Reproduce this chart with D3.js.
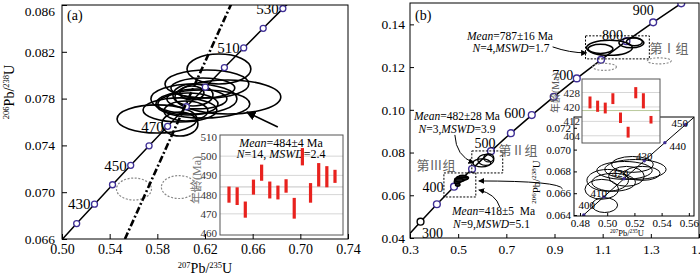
<!DOCTYPE html>
<html><head><meta charset="utf-8">
<script src="https://cdn.jsdelivr.net/npm/d3@7"></script>
<style>
body{margin:0;background:#fff}
svg{display:block;font-family:"Liberation Serif","Times New Roman",serif}
</style></head><body>
<svg id="c" width="700" height="276" font-family="Liberation Serif, Times New Roman, serif"></svg>
<script>
// concordia reference points: age (Ma), 207Pb/235U, 206Pb/238U
const concAge = [250,300,350,400,410,420,430,440,450,460,470,480,490,500,510,520,530,540,550,600,650,700,750,800,850,900,950];
const concX = [0.279171,0.343737,0.411566,0.482812,0.497488,0.512308,0.527276,0.542392,0.557657,0.573073,0.588642,0.604365,0.620244,0.636279,0.652474,0.668829,0.685345,0.702026,0.718871,0.805631,0.89677,0.99251,1.093082,1.198731,1.309712,1.426294,1.548762];
const concY = [0.039543,0.047637,0.055795,0.064016,0.065668,0.067322,0.068979,0.070638,0.072300,0.073965,0.075632,0.077302,0.078975,0.080650,0.082327,0.084008,0.085691,0.087376,0.089064,0.097544,0.106090,0.114702,0.123382,0.132129,0.140944,0.149828,0.158781];

// panel (a): ticks on the concordia, labelled ages
const marksA = [420,430,440,450,460,470,480,490,500,510,520,530];
const labelsA = [430,450,470,510,530];
// error ellipses [207/235, 206/238, half-width x, half-width y]
const ellA = [
  [0.6317,0.08053,0.0268,0.00128],[0.6216,0.07925,0.0352,0.00120],[0.6392,0.07814,0.0444,0.00145],
  [0.6107,0.07797,0.0361,0.00128],[0.6182,0.07754,0.0394,0.00120],[0.5797,0.07626,0.0335,0.00120],
  [0.5990,0.07703,0.0310,0.00103],[0.5990,0.07583,0.0151,0.00103],[0.6099,0.07831,0.0168,0.00094],
  [0.6090,0.07848,0.0101,0.00060],[0.6132,0.07797,0.0252,0.00085],[0.6057,0.07754,0.0252,0.00094],
  [0.6182,0.07891,0.0268,0.00085],[0.6040,0.07694,0.0184,0.00085]];
const ellAgray = [[0.5604,0.07027,0.0147,0.00094],[0.5981,0.07044,0.0147,0.00098]];
const discX = [0.5528,0.6434], discY = [0.066,0.0864];
const arrowA = [[0.6811,0.07557],[0.6551,0.07685]];
// weighted-mean inset (a)
const agesA = [480.0,479.2,472.2,483.9,491.4,482.4,481.1,484.5,472.9,499.7,480.9,490.3,489.3,489.5];
const errA = [4.2,4.6,4.2,3.9,4.2,4.4,3.6,3.5,5.4,4.5,5.1,6.1,5.5,3.4];
const meanA = 484;

// panel (b)
const marksB = [300,350,400,450,500,550,600,650,700,750,800,850,900];
const labelsB = [300,400,500,600,700,800,900];
const ellB1 = [[1.1282,0.1290,0.0952,0.00351],[1.0909,0.12853,0.0518,0.00211],[1.2193,0.13134,0.0518,0.00234],[1.2317,0.13181,0.0331,0.00187]];
const ellB1gray = [[1.1075,0.12010,0.0497,0.00164],[1.3353,0.12291,0.0497,0.00141]];
const ellB2 = [[0.5982,0.07513,0.0373,0.00187],[0.6147,0.07654,0.0331,0.00258],[0.6271,0.07747,0.0207,0.00187]];
const ellB3 = [
  [0.50036,0.06718,0.01527,0.00100],[0.51273,0.06809,0.02036,0.00082],[0.52073,0.06818,0.02254,0.00091],
  [0.51855,0.06864,0.01527,0.00073],[0.51418,0.06755,0.01309,0.00091],[0.49600,0.06636,0.01236,0.00091],
  [0.49818,0.06491,0.00945,0.00068],[0.52581,0.06782,0.01309,0.00064],[0.50473,0.06700,0.01600,0.00082]];
const boxesB = [[1.0288,1.2938,0.12384,0.13462],[0.5567,0.6851,0.07045,0.08075],[0.4408,0.5733,0.05920,0.07045]];
const marksIB = [400,410,420,430,440,450];
const agesB = [422.5,420.4,419.4,424.6,414.0,406.0,427.9,423.4,412.9];
const errB = [3.3,3.1,3.0,3.0,2.9,3.0,3.1,4.2,2.1];
const meanB = 418;

const svg = d3.select('#c');
const purple = '#3f2f96', red = '#e8221e';
const cIdx = d3.range(concAge.length);
const ci = a => concAge.indexOf(a);

const defs = svg.append('defs');
defs.append('marker').attr('id', 'arr').attr('viewBox', '0 0 10 10')
  .attr('refX', 9).attr('refY', 5).attr('markerWidth', 6).attr('markerHeight', 6)
  .attr('orient', 'auto').append('path').attr('d', 'M0,0L10,5L0,10z').attr('fill', '#000');
function clip(id, x, y, w, h) {
  defs.append('clipPath').attr('id', id).append('rect').attr('x', x).attr('y', y).attr('width', w).attr('height', h);
}

function ellipses(g, data, x, y) {
  return g.selectAll(null).data(data).join('ellipse')
    .attr('cx', d => x(d[0])).attr('cy', d => y(d[1]))
    .attr('rx', d => Math.abs(x(d[0] + d[2]) - x(d[0])))
    .attr('ry', d => Math.abs(y(d[1] + d[3]) - y(d[1])))
    .attr('fill', 'none');
}

// text with italic pieces: parts = [[str, italic], ...]
function rich(g, x, y, parts, size, anchor = 'middle') {
  const t = g.append('text').attr('x', x).attr('y', y).attr('font-size', size).attr('text-anchor', anchor);
  parts.forEach(p => t.append('tspan').attr('font-style', p[1] ? 'italic' : null).text(p[0]));
  return t;
}
// ratio label with superscript mass numbers
function ratio(g, m1, m2, size, sup) {
  const t = g.append('text').attr('text-anchor', 'middle').attr('font-size', size);
  t.append('tspan').attr('font-size', sup).attr('dy', -size * 0.38).text(m1);
  t.append('tspan').attr('dy', size * 0.38).text('Pb/');
  t.append('tspan').attr('font-size', sup).attr('dy', -size * 0.38).text(m2);
  t.append('tspan').attr('dy', size * 0.38).text('U');
  return t;
}
function styleAxis(g, size, color = '#000') {
  g.attr('font-family', null).attr('font-size', size);
  g.select('.domain').remove();
  g.selectAll('.tick line').attr('stroke', color);
  g.selectAll('.tick text').attr('fill', color);
}

// ================= panel (a)
const xa = d3.scaleLinear().domain([0.50, 0.74]).range([62, 348]);
const ya = d3.scaleLinear().domain([0.066, 0.086]).range([239, 5]);
clip('clipA', 62, 5, 286, 234);
const pa = svg.append('g').attr('clip-path', 'url(#clipA)');

ellipses(pa, ellAgray, xa, ya).attr('stroke', '#8a8a8a').attr('stroke-width', 1.2).attr('stroke-dasharray', '2,1.6');
ellipses(pa, ellA, xa, ya).attr('stroke', '#000').attr('stroke-width', 1.6);

const concA = cIdx.filter(i => concAge[i] >= 400 && concAge[i] <= 550);
pa.append('path').attr('d', d3.line().x(i => xa(concX[i])).y(i => ya(concY[i]))(concA))
  .attr('fill', 'none').attr('stroke', '#000').attr('stroke-width', 1.5);
pa.selectAll(null).data(marksA).join('circle')
  .attr('cx', a => xa(concX[ci(a)])).attr('cy', a => ya(concY[ci(a)])).attr('r', 3)
  .attr('fill', '#fff').attr('stroke', purple).attr('stroke-width', 1.3);
pa.selectAll(null).data(labelsA).join('text')
  .attr('x', a => xa(concX[ci(a)]) - 4).attr('y', a => ya(concY[ci(a)]))
  .attr('dy', '0.35em').attr('text-anchor', 'end').attr('font-size', 15).text(d => d);

pa.append('path').attr('d', d3.line().x(i => xa(discX[i])).y(i => ya(discY[i]))([0, 1]))
  .attr('stroke', '#000').attr('stroke-width', 2.6).attr('stroke-dasharray', '7,2.5,2,2.5');

pa.append('line')
  .attr('x1', xa(arrowA[0][0])).attr('y1', ya(arrowA[0][1]))
  .attr('x2', xa(arrowA[1][0])).attr('y2', ya(arrowA[1][1]))
  .attr('stroke', '#000').attr('stroke-width', 1.6).attr('marker-end', 'url(#arr)');

// inset (a)
const ia = svg.append('g');
const xia = d3.scalePoint().domain(d3.range(1, 15)).range([229, 335]);
const yia = d3.scaleLinear().domain([459, 511]).range([235, 135]);
ia.append('rect').attr('x', 220).attr('y', 135).attr('width', 123).attr('height', 100).attr('fill', '#fff');
ia.selectAll(null).data([470, 480, 490, 500]).join('line')
  .attr('x1', 220).attr('x2', 343).attr('y1', d => yia(d)).attr('y2', d => yia(d))
  .attr('stroke', '#d6d6d6');
ia.append('line').attr('x1', 220).attr('x2', 343).attr('y1', yia(meanA)).attr('y2', yia(meanA)).attr('stroke', '#c4c4c4');
rich(ia, 281, 147, [['Mean', 1], ['=484±4 Ma', 0]], 12);
rich(ia, 281, 158, [['N', 1], ['=14, ', 0], ['MSWD', 1], ['=2.4', 0]], 12);
ia.selectAll(null).data(agesA).join('rect')
  .attr('x', (d, i) => xia(i + 1) - 1.6).attr('width', 3.2)
  .attr('y', (d, i) => yia(d + errA[i])).attr('height', (d, i) => yia(d - errA[i]) - yia(d + errA[i]))
  .attr('fill', red);
ia.append('rect').attr('x', 220).attr('y', 135).attr('width', 123).attr('height', 100)
  .attr('fill', 'none').attr('stroke', '#555');
const iaAx = ia.append('g').attr('transform', 'translate(220,0)')
  .call(d3.axisLeft(yia).tickValues([460, 470, 480, 490, 500, 510]).tickSize(0).tickPadding(3));
styleAxis(iaAx, 11, '#333');
ia.append('text').attr('transform', 'translate(201,180) rotate(-90)').attr('text-anchor', 'middle')
  .attr('font-size', 12).attr('fill', '#777').attr('font-family', 'Liberation Serif, Noto Sans CJK SC, serif').text('年龄(Ma)');

// frame + axes (a)
svg.append('rect').attr('x', 62).attr('y', 5).attr('width', 286).attr('height', 234)
  .attr('fill', 'none').attr('stroke', '#000');
const axA = svg.append('g').attr('transform', 'translate(0,239)')
  .call(d3.axisBottom(xa).tickValues(d3.range(0.50, 0.7401, 0.04)).tickFormat(d3.format('.2f')).tickSize(-5).tickPadding(5));
styleAxis(axA, 14);
const ayA = svg.append('g').attr('transform', 'translate(62,0)')
  .call(d3.axisLeft(ya).tickValues(d3.range(0.066, 0.0861, 0.004)).tickFormat(d3.format('.3f')).tickSize(-5).tickPadding(7));
styleAxis(ayA, 13.5);
ayA.selectAll('.tick text').filter(d => d > 0.085).attr('dy', '0.75em');
svg.append('text').attr('x', 67).attr('y', 20).attr('font-size', 14).text('(a)');
ratio(svg, '207', '235', 14, 8.5).attr('x', 205).attr('y', 273);
ratio(svg, '206', '238', 14, 8.5).attr('transform', 'translate(14,92) rotate(-90)');

// ================= panel (b)
const xb = d3.scaleLinear().domain([0.3, 1.5]).range([410, 699]);
const yb = d3.scaleLinear().domain([0.04, 0.15]).range([238, 3]);
clip('clipB', 410, 3, 289, 235);
const pb = svg.append('g').attr('clip-path', 'url(#clipB)');

pb.append('path').attr('d', d3.line().x(i => xb(concX[i])).y(i => yb(concY[i]))(cIdx))
  .attr('fill', 'none').attr('stroke', '#000').attr('stroke-width', 1.5);
pb.selectAll(null).data(marksB).join('circle')
  .attr('cx', a => xb(concX[ci(a)])).attr('cy', a => yb(concY[ci(a)])).attr('r', 3.4)
  .attr('fill', '#fff').attr('stroke', a => a === 300 ? '#000' : purple).attr('stroke-width', 1.4);
const offB = {300: [12, 11], 400: [-21, 0], 500: [-6, -8], 600: [-17, -2], 700: [-14, -3], 800: [-14, -6], 900: [-38, 7]};
pb.selectAll(null).data(labelsB).join('text')
  .attr('x', a => xb(concX[ci(a)]) + offB[a][0]).attr('y', a => yb(concY[ci(a)]) + offB[a][1])
  .attr('dy', '0.35em').attr('text-anchor', 'middle').attr('font-size', 14).text(d => d);

ellipses(pb, ellB1gray, xb, yb).attr('stroke', '#8a8a8a').attr('stroke-width', 1.1).attr('stroke-dasharray', '2,1.6');
ellipses(pb, ellB1, xb, yb).attr('stroke', '#000').attr('stroke-width', 1.5);
ellipses(pb, ellB2, xb, yb).attr('stroke', '#000').attr('stroke-width', 1.3);
ellipses(pb, ellB3, xb, yb).attr('stroke', '#000').attr('stroke-width', 1.4).attr('fill', '#222');
pb.selectAll(null).data(boxesB).join('rect')
  .attr('x', d => xb(d[0])).attr('width', d => xb(d[1]) - xb(d[0]))
  .attr('y', d => yb(d[3])).attr('height', d => yb(d[2]) - yb(d[3]))
  .attr('fill', 'none').attr('stroke', '#000').attr('stroke-dasharray', '2,1.5');

// annotations
rich(pb, 510, 40, [['Mean', 1], ['=787±16 Ma', 0]], 11.5);
rich(pb, 511, 52, [['N', 1], ['=4,', 0], ['MSWD', 1], ['=1.7', 0]], 11.5);
rich(pb, 457, 120, [['Mean', 1], ['=482±28 Ma', 0]], 11.5);
rich(pb, 457, 133, [['N', 1], ['=3,', 0], ['MSWD', 1], ['=3.9', 0]], 11.5);
rich(pb, 452, 215, [['Mean', 1], ['=418±5  Ma', 0]], 11.5, 'start').attr('xml:space', 'preserve');
rich(pb, 453, 228, [['N', 1], ['=9,', 0], ['MSWD', 1], ['=5.1', 0]], 11.5, 'start');
const cjk = 'Liberation Serif, Noto Sans CJK SC, serif';
[['第Ⅰ组', 669, 53], ['第Ⅱ组', 518, 155], ['第Ⅲ组', 436, 170]].forEach(d =>
  pb.append('text').attr('x', d[1]).attr('y', d[2]).attr('text-anchor', 'middle')
    .attr('font-size', 13).attr('fill', '#666').attr('font-family', cjk).text(d[0]));

const arrowsB = [
  [[0.8922, 0.12946], [0.9626, 0.12665], [1.0330, 0.12665]],
  [[0.4863, 0.08825], [0.4904, 0.07841], [0.5650, 0.07513]],
  [[0.6727, 0.05452], [0.6561, 0.06061], [0.5857, 0.06248]],
  [[0.9336, 0.06295], [0.9212, 0.06670], [0.5857, 0.06670]]];
pb.selectAll(null).data(arrowsB).join('path')
  .attr('d', d => `M${xb(d[0][0])},${yb(d[0][1])}Q${xb(d[1][0])},${yb(d[1][1])} ${xb(d[2][0])},${yb(d[2][1])}`)
  .attr('fill', 'none').attr('stroke', '#000').attr('stroke-width', 1).attr('marker-end', 'url(#arr)');

// lower inset (b): concordia close-up
const xib = d3.scaleLinear().domain([0.4756, 0.5638]).range([574, 694]);
const yib = d3.scaleLinear().domain([0.06391, 0.07299]).range([216, 117]);
const ib = svg.append('g');
ib.append('rect').attr('x', 574).attr('y', 117).attr('width', 120).attr('height', 99).attr('fill', '#fff');
clip('clipIB', 574, 117, 120, 99);
const ibp = ib.append('g').attr('clip-path', 'url(#clipIB)');
ellipses(ibp, ellB3, xib, yib).attr('stroke', '#000').attr('stroke-width', 1);
const concI = cIdx.filter(i => concAge[i] >= 350 && concAge[i] <= 470);
ibp.append('path').attr('d', d3.line().x(i => xib(concX[i])).y(i => yib(concY[i]))(concI))
  .attr('fill', 'none').attr('stroke', '#000').attr('stroke-width', 1);
ibp.selectAll(null).data(marksIB).join('circle')
  .attr('cx', a => xib(concX[ci(a)])).attr('cy', a => yib(concY[ci(a)])).attr('r', 1.7).attr('fill', purple);
const offIB = {400: [3, -10], 410: [-5, -4], 420: [-4, -6], 430: [0, -5], 440: [13, 4], 450: [-6, -1]};
ibp.selectAll(null).data(marksIB).join('text')
  .attr('x', a => xib(concX[ci(a)]) + offIB[a][0]).attr('y', a => yib(concY[ci(a)]) + offIB[a][1])
  .attr('dy', '0.35em').attr('text-anchor', 'middle').attr('font-size', 11).text(d => d);
ib.append('rect').attr('x', 574).attr('y', 117).attr('width', 120).attr('height', 99)
  .attr('fill', 'none').attr('stroke', '#000');
const ibx = ib.append('g').attr('transform', 'translate(0,216)')
  .call(d3.axisBottom(xib).tickValues([0.48, 0.50, 0.52, 0.54, 0.56]).tickFormat(d3.format('.2f')).tickSize(-3).tickPadding(3));
styleAxis(ibx, 11);
const iby = ib.append('g').attr('transform', 'translate(574,0)')
  .call(d3.axisLeft(yib).tickValues([0.064, 0.066, 0.068, 0.070, 0.072]).tickFormat(d3.format('.3f')).tickSize(-3).tickPadding(3));
styleAxis(iby, 11);
ratio(ib, '207', '235', 8.5, 5.5).attr('x', 627).attr('y', 236);
ratio(ib, '206', '238', 11, 7).attr('transform', 'translate(540,182) rotate(-90)');

// upper inset (b): weighted mean ages
const xub = d3.scalePoint().domain(d3.range(1, 10)).range([590, 651]);
const yub = d3.scaleLinear().domain([400, 435.5]).range([143, 79]);
const ub = svg.append('g');
ub.append('rect').attr('x', 582).attr('y', 79).attr('width', 78).attr('height', 64).attr('fill', '#fff');
ub.selectAll(null).data([404, 412, 420, 428]).join('line')
  .attr('x1', 582).attr('x2', 660).attr('y1', d => yub(d)).attr('y2', d => yub(d)).attr('stroke', '#d6d6d6');
ub.append('line').attr('x1', 582).attr('x2', 660).attr('y1', yub(meanB)).attr('y2', yub(meanB)).attr('stroke', '#b9c99c');
ub.selectAll(null).data(agesB).join('rect')
  .attr('x', (d, i) => xub(i + 1) - 1.5).attr('width', 3)
  .attr('y', (d, i) => yub(d + errB[i])).attr('height', (d, i) => yub(d - errB[i]) - yub(d + errB[i]))
  .attr('fill', red);
ub.append('rect').attr('x', 582).attr('y', 79).attr('width', 78).attr('height', 64)
  .attr('fill', 'none').attr('stroke', '#555');
const uby = ub.append('g').attr('transform', 'translate(582,0)')
  .call(d3.axisLeft(yub).tickValues([404, 412, 420, 428]).tickSize(0).tickPadding(2));
styleAxis(uby, 11, '#222');
ub.append('text').attr('transform', 'translate(559,93) rotate(-90)').attr('text-anchor', 'middle')
  .attr('font-size', 10).attr('fill', '#555').attr('font-family', cjk).text('年龄(Ma)');

// frame + axes (b)
svg.append('rect').attr('x', 410).attr('y', 3).attr('width', 289).attr('height', 235)
  .attr('fill', 'none').attr('stroke', '#000');
const axB = svg.append('g').attr('transform', 'translate(0,238)')
  .call(d3.axisBottom(xb).tickValues([0.3, 0.5, 0.7, 0.9, 1.1, 1.3, 1.5]).tickFormat(d3.format('.1f')).tickSize(-4).tickPadding(6));
styleAxis(axB, 13.5);
const ayB = svg.append('g').attr('transform', 'translate(410,0)')
  .call(d3.axisLeft(yb).tickValues([0.04, 0.06, 0.08, 0.10, 0.12, 0.14]).tickFormat(d3.format('.2f')).tickSize(-4).tickPadding(5));
styleAxis(ayB, 13.5);
svg.append('text').attr('x', 415).attr('y', 20).attr('font-size', 14).text('(b)');
</script>
</body></html>
